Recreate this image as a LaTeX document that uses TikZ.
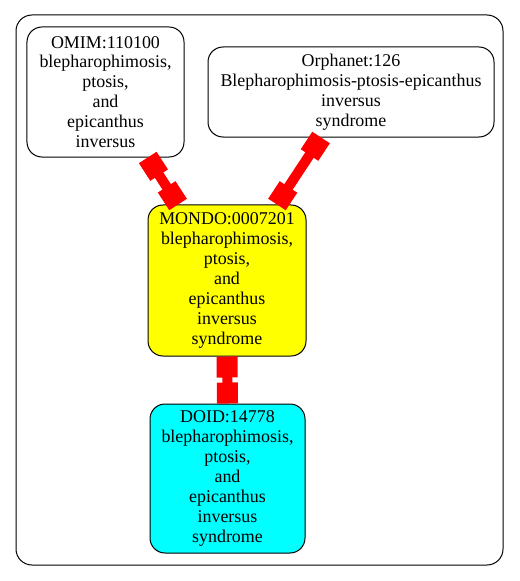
\documentclass[tikz,border=0pt]{standalone}
\usepackage{fontspec}
\setmainfont{Liberation Serif}
\usetikzlibrary{arrows.meta}
\definecolor{mondoyellow}{RGB}{255,255,0}
\definecolor{doidcyan}{RGB}{0,255,255}
\definecolor{linkred}{RGB}{255,0,0}

\begin{document}
\begin{tikzpicture}[x=1bp, y=-1bp,
	term/.style={draw, line width=1bp, rounded corners=15bp, align=center, inner sep=0pt, font=\rmfamily\fontsize{18}{20}\selectfont},
	link/.style={draw=linkred, line width=10bp, <->},
	>={Rectangle[length=21bp, width=21bp]}]
	\useasboundingbox (0,0) rectangle (520,581);
	\draw[line width=1bp, rounded corners=16bp] (16,15) rectangle (503,565);
	\node[term, minimum width=157bp, minimum height=130bp] (omim) at (105.5,92) {OMIM:110100\\blepharophimosis,\\ptosis,\\and\\epicanthus\\inversus};
	\node[term, minimum width=286bp, minimum height=90bp] (orpha) at (351,92) {Orphanet:126\\Blepharophimosis-ptosis-epicanthus\\inversus\\syndrome};
	\node[term, fill=mondoyellow, minimum width=158bp, minimum height=151bp] (mondo) at (227,280.5) {MONDO:0007201\\blepharophimosis,\\ptosis,\\and\\epicanthus\\inversus\\syndrome};
	\node[term, fill=doidcyan, minimum width=155bp, minimum height=149bp] (doid) at (227.5,478.5) {DOID:14778\\blepharophimosis,\\ptosis,\\and\\epicanthus\\inversus\\syndrome};
	\foreach \a/\b in {omim/mondo, orpha/mondo, mondo/doid}
		\draw[link] (\a) -- (\b);
\end{tikzpicture}
\end{document}
